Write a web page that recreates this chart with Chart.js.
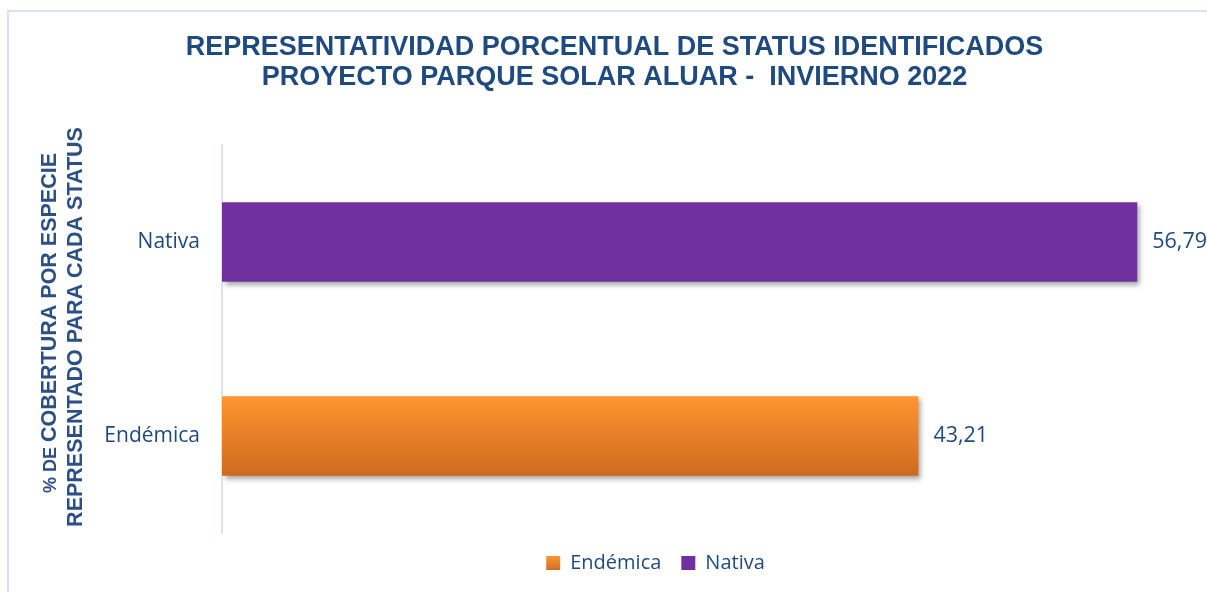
<!DOCTYPE html>
<html>
<head>
<meta charset="utf-8">
<script src="https://cdn.jsdelivr.net/npm/chart.js@4.4.1/dist/chart.umd.min.js"></script>
<style>
  html, body { margin: 0; padding: 0; background: #ffffff; }
  #wrap { position: relative; width: 1207px; height: 592px; }
</style>
</head>
<body>
<div id="wrap"><canvas id="c" width="1207" height="592"></canvas></div>
<script>
// ---- data ----
const categories = ['Nativa', 'Endémica'];
const seriesNames = ['Endémica', 'Nativa'];
const endemicaValues = [null, 43.21];
const nativaValues = [56.79, null];
const titleLines = ['REPRESENTATIVIDAD PORCENTUAL DE STATUS IDENTIFICADOS', 'PROYECTO PARQUE SOLAR ALUAR -  INVIERNO 2022'];
const yTitleLine1a = '% DE ';
const yTitleLine1b = 'COBERTURA POR ESPECIE';
const yTitleLine2 = 'REPRESENTADO PARA CADA STATUS';

const TEXT_BLUE = '#1f4a80';
const TICK_FONT = '"Open Sans", "Noto Sans", sans-serif';
const BOLD_FONT = '"Liberation Sans", Arial, sans-serif';
const BAR_PCT = 0.41;

function orangeGradient(ctx, top, bottom) {
  const g = ctx.createLinearGradient(0, top, 0, bottom);
  g.addColorStop(0, '#ff962f');
  g.addColorStop(1, '#cd6a1f');
  return g;
}

const frameAndTitle = {
  id: 'frameAndTitle',
  afterLayout(chart) {
    const l = chart.legend;
    if (l) { l.left += 61; l.right += 61; }
    const t = chart.titleBlock;
    if (t) { t.left += 20; t.right += 20; }
  },
  beforeDraw(chart) {
    const ctx = chart.ctx;
    ctx.save();
    ctx.strokeStyle = '#d9e3f3';
    ctx.lineWidth = 2;
    ctx.strokeRect(8, 11, 1400, 800);
    ctx.restore();
  },
  afterDraw(chart) {
    const ctx = chart.ctx;
    // y axis title
    ctx.save();
    ctx.fillStyle = '#2c4f86';
    ctx.textBaseline = 'middle';
    ctx.save();
    ctx.translate(50, 323);
    ctx.rotate(-Math.PI / 2);
    ctx.font = 'bold 18px ' + BOLD_FONT;
    const wa = ctx.measureText(yTitleLine1a).width;
    ctx.font = 'bold 21.5px ' + BOLD_FONT;
    const wb = ctx.measureText(yTitleLine1b).width;
    const start = -(wa + wb) / 2;
    ctx.textAlign = 'left';
    ctx.font = 'bold 18px ' + BOLD_FONT;
    ctx.fillText(yTitleLine1a, start, 1);
    ctx.font = 'bold 21.5px ' + BOLD_FONT;
    ctx.fillText(yTitleLine1b, start + wa, 0);
    ctx.restore();
    ctx.save();
    ctx.translate(76, 327);
    ctx.rotate(-Math.PI / 2);
    ctx.textAlign = 'center';
    ctx.font = 'bold 21.5px ' + BOLD_FONT;
    ctx.fillText(yTitleLine2, 0, 0);
    ctx.restore();
    ctx.restore();

    // data labels
    ctx.save();
    ctx.font = '21.5px ' + TICK_FONT;
    ctx.fillStyle = TEXT_BLUE;
    ctx.textBaseline = 'middle';
    ctx.textAlign = 'left';
    chart.data.datasets.forEach((ds, di) => {
      const meta = chart.getDatasetMeta(di);
      meta.data.forEach((bar, i) => {
        const v = ds.data[i];
        if (v === null || v === undefined) return;
        const txt = v.toFixed(2).replace('.', ',');
        ctx.fillText(txt, bar.x + 15, bar.y);
      });
    });
    ctx.restore();
  }
};

const shadowPlugin = {
  id: 'barShadow',
  beforeDatasetDraw(chart) {
    const ctx = chart.ctx;
    ctx.save();
    ctx.shadowColor = 'rgba(0,0,0,0.35)';
    ctx.shadowBlur = 5;
    ctx.shadowOffsetX = 3;
    ctx.shadowOffsetY = 3;
  },
  afterDatasetDraw(chart) {
    chart.ctx.restore();
  }
};

const ctx = document.getElementById('c').getContext('2d');
new Chart(ctx, {
  type: 'bar',
  data: {
    labels: categories,
    datasets: [
      {
        label: seriesNames[0],
        data: endemicaValues,
        backgroundColor: (c) => {
          const ys = c.chart.scales && c.chart.scales.y;
          if (c.type === 'data' && ys && c.chart.chartArea) {
            const center = ys.getPixelForValue(c.dataIndex);
            const half = (ys.height / categories.length) * BAR_PCT / 2;
            return orangeGradient(c.chart.ctx, center - half, center + half);
          }
          return '#f28a2a';
        },
        grouped: false,
        barPercentage: BAR_PCT,
        categoryPercentage: 1.0
      },
      {
        label: seriesNames[1],
        data: nativaValues,
        backgroundColor: '#7030a0',
        grouped: false,
        barPercentage: BAR_PCT,
        categoryPercentage: 1.0
      }
    ]
  },
  options: {
    indexAxis: 'y',
    responsive: false,
    animation: false,
    devicePixelRatio: 1,
    layout: { padding: { left: 0, right: 18, top: 0, bottom: 9 } },
    scales: {
      x: { display: false, min: 0, max: 60 },
      y: {
        afterFit(s) { s.width = 222; },
        grid: { display: false, drawTicks: false },
        border: { display: true, color: '#d9e3f3', width: 2 },
        ticks: { padding: 22, color: TEXT_BLUE, font: { family: TICK_FONT, size: 21 } }
      }
    },
    plugins: {
      title: {
        display: true,
        text: titleLines,
        color: TEXT_BLUE,
        font: { family: BOLD_FONT, size: 27, weight: 'bold', lineHeight: 1.11 },
        padding: { top: 33, bottom: 52 }
      },
      legend: {
        position: 'bottom',
        labels: {
          color: TEXT_BLUE,
          font: { family: TICK_FONT, size: 20 },
          boxWidth: 14,
          boxHeight: 14,
          padding: 20,
          generateLabels(chart) {
            return chart.data.datasets.map((ds, i) => ({
              text: ds.label,
              fillStyle: i === 0 ? orangeGradient(chart.ctx, 556, 571) : ds.backgroundColor,
              strokeStyle: 'rgba(0,0,0,0)',
              lineWidth: 0,
              hidden: false,
              datasetIndex: i,
              fontColor: TEXT_BLUE
            }));
          }
        }
      },
      tooltip: { enabled: false }
    }
  },
  plugins: [frameAndTitle, shadowPlugin]
});
</script>
</body>
</html>
